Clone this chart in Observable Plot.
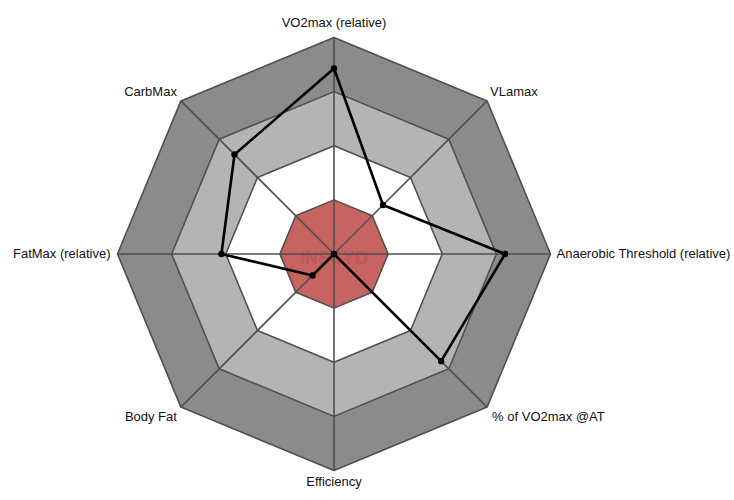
<!DOCTYPE html>
<html>
<head>
<meta charset="utf-8">
<script src="https://cdn.jsdelivr.net/npm/d3@7"></script>
<script src="https://cdn.jsdelivr.net/npm/@observablehq/plot@0.6"></script>
<style>
  html, body { margin: 0; padding: 0; background: #fff; }
  #chart svg { display: block; }
</style>
</head>
<body>
<div id="chart"></div>
<script>
// Axes (clockwise from top)
const categories = [
  "VO2max (relative)",
  "VLamax",
  "Anaerobic Threshold (relative)",
  "% of VO2max @AT",
  "Efficiency",
  "Body Fat",
  "FatMax (relative)",
  "CarbMax"
];
// Athlete values, fraction of the outer ring
const values = [0.857, 0.32, 0.79, 0.70, 0.0, 0.14, 0.52, 0.65];
// Ring levels (outer to inner) and their fills
const ringLevels = [1.0, 0.75, 0.5, 0.25];
const ringFills = ["#8b8b8b", "#b4b4b4", "#ffffff", "#c76462"];

const n = categories.length;
const ang = i => (i / n) * 2 * Math.PI; // 0 = up, clockwise
const px = (i, r) => r * Math.sin(ang(i));
const py = (i, r) => r * Math.cos(ang(i));

const ringData = [];
ringLevels.forEach((r, k) => {
  categories.forEach((c, i) => ringData.push({ring: k, x: px(i, r), y: py(i, r), fill: ringFills[k]}));
});
const spokes = categories.map((c, i) => ({x1: 0, y1: 0, x2: px(i, 1), y2: py(i, 1)}));
const pts = categories.map((c, i) => ({cat: c, x: px(i, values[i]), y: py(i, values[i])}));

// label placement (anchor / offsets)
const labelSpec = [
  {anchor: "middle", dx: 0, dy: -15},
  {anchor: "start", dx: 3, dy: -9},
  {anchor: "start", dx: 6, dy: 0},
  {anchor: "start", dx: 5, dy: 10},
  {anchor: "middle", dx: 0, dy: 11},
  {anchor: "end", dx: -4, dy: 10},
  {anchor: "end", dx: -7, dy: 0},
  {anchor: "end", dx: -4, dy: -9}
];
const labels = categories.map((c, i) => ({text: c, x: px(i, 1), y: py(i, 1), ...labelSpec[i]}));

const textMarks = labels.map(l => Plot.text([l], {
  x: "x", y: "y", text: "text", textAnchor: l.anchor, dx: l.dx, dy: l.dy,
  fontSize: 13, fill: "#111"
}));

const chart = Plot.plot({
  width: 734,
  height: 500,
  marginLeft: 117,
  marginRight: 184,
  marginTop: 37,
  marginBottom: 30,
  x: {domain: [-1, 1], axis: null},
  y: {domain: [-1, 1], axis: null},
  style: {fontFamily: "Liberation Sans, Arial, Helvetica, sans-serif", background: "#fff"},
  marks: [
    Plot.line(ringData, {x: "x", y: "y", z: "ring", fill: "fill", stroke: "#4f4f4f", strokeWidth: 1.6, curve: "linear-closed"}),
    Plot.text(["INSCYD"], {x: 0, y: 0, text: d => d, fontSize: 18, fontWeight: "bold", fill: "#ba5a58", dy: 4}),
    Plot.link(spokes, {x1: "x1", y1: "y1", x2: "x2", y2: "y2", stroke: "#4f4f4f", strokeWidth: 1.6}),
    Plot.line(pts, {x: "x", y: "y", stroke: "#000", strokeWidth: 2.6, curve: "linear-closed"}),
    Plot.dot(pts, {x: "x", y: "y", r: 3.2, fill: "#000"}),
    ...textMarks
  ]
});
document.getElementById("chart").append(chart);
</script>
</body>
</html>
